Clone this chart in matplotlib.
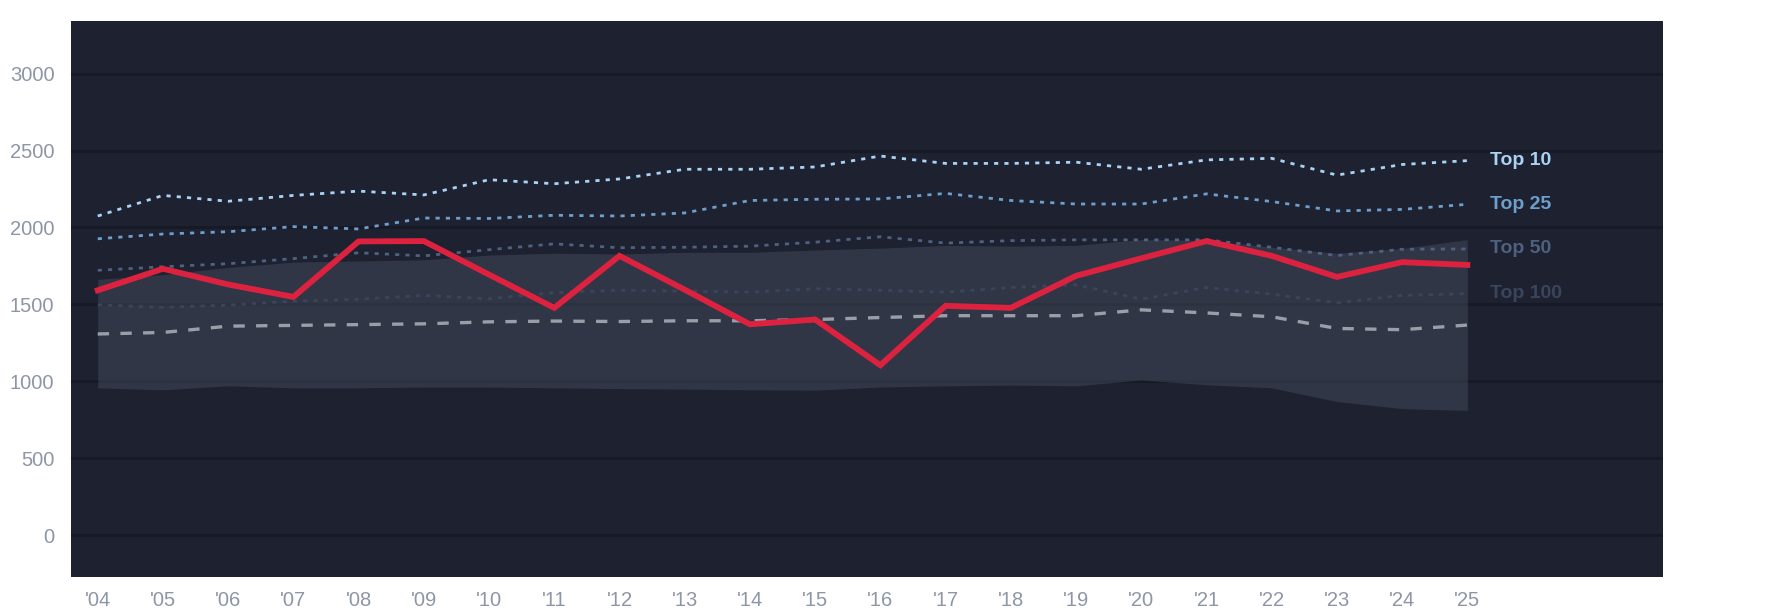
import matplotlib
matplotlib.use("Agg")
import matplotlib.pyplot as plt
import numpy as np

years = ["'04", "'05", "'06", "'07", "'08", "'09", "'10", "'11", "'12", "'13", "'14",
         "'15", "'16", "'17", "'18", "'19", "'20", "'21", "'22", "'23", "'24", "'25"]

main_series = [1591, 1731, 1629, 1548, 1909, 1911, 1693, 1477, 1815, 1595, 1370,
               1401, 1104, 1490, 1477, 1685, 1799, 1911, 1815, 1678, 1774, 1756]

top10 = [2074, 2208, 2170, 2208, 2236, 2211, 2310, 2284, 2315, 2378, 2378,
         2393, 2464, 2416, 2416, 2424, 2378, 2439, 2449, 2340, 2409, 2434]
top25 = [1926, 1957, 1972, 2005, 1990, 2061, 2058, 2079, 2074, 2094, 2175,
         2183, 2185, 2221, 2175, 2152, 2152, 2218, 2168, 2107, 2117, 2150]
top50 = [1721, 1744, 1764, 1797, 1835, 1815, 1855, 1893, 1868, 1871, 1878,
         1904, 1939, 1898, 1914, 1919, 1919, 1919, 1871, 1817, 1858, 1860]
top100 = [1497, 1480, 1495, 1520, 1533, 1558, 1536, 1576, 1591, 1586, 1579,
          1602, 1591, 1579, 1609, 1627, 1533, 1609, 1566, 1510, 1558, 1569]
median = [1307, 1317, 1358, 1363, 1368, 1373, 1386, 1391, 1388, 1393, 1393,
          1401, 1414, 1426, 1426, 1426, 1464, 1444, 1419, 1343, 1335, 1365]

band_upper = [1662, 1693, 1740, 1774, 1782, 1789, 1820, 1832, 1827, 1838, 1838,
              1853, 1865, 1883, 1878, 1883, 1921, 1916, 1871, 1832, 1863, 1921]
band_lower = [957, 944, 970, 957, 957, 962, 962, 957, 952, 949, 944,
              942, 962, 970, 975, 970, 1008, 977, 957, 868, 822, 810]

tier_labels = ["Top 10", "Top 25", "Top 50", "Top 100"]
tier_values = [top10, top25, top50, top100]
tier_colors = ["#a9d3f4", "#6e9ecb", "#4e6180", "#3a455c"]

y_ticks = [0, 500, 1000, 1500, 2000, 2500, 3000]

plt.rcParams['font.family'] = ['Liberation Sans', 'DejaVu Sans']

fig = plt.figure(figsize=(17.85, 6.14), dpi=100, facecolor="white")
ax = fig.add_axes([71 / 1785, 1 - 577 / 614, (1663 - 71) / 1785, (577 - 21) / 614])
ax.set_facecolor("#1d2130")

x = np.arange(len(years))

for yv in y_ticks:
    ax.axhline(yv, color="#161a25", lw=2.0, zorder=1)

ax.fill_between(x, band_lower, band_upper, color="#4b5062", alpha=0.45, lw=0, zorder=2)

for vals, col in zip(tier_values, tier_colors):
    ax.plot(x, vals, color=col, lw=2.0, linestyle=(0, (1.5, 2.2)), zorder=3,
            dash_capstyle="butt")

ax.plot(x, median, color="#9a9ea8", lw=2.4, linestyle=(0, (3.4, 3.4)), zorder=4)
ax.plot(x, main_series, color="#dc223f", lw=4.2, zorder=5, solid_joinstyle="miter")

for lab, vals, col in zip(tier_labels, tier_values, tier_colors):
    ax.text(21.35, vals[-1], lab, color=col, fontsize=14, fontweight="bold",
            va="center", ha="left", zorder=6)

ax.set_xlim(-0.41, 24.0)
ax.set_ylim(-273, 3342)
ax.set_xticks(x)
ax.set_xticklabels(years)
ax.set_yticks(y_ticks)
ax.set_yticklabels([str(v) for v in y_ticks])
ax.tick_params(axis="both", length=0, colors="#8d96a7", labelsize=14.5)
ax.tick_params(axis="x", pad=10)
ax.tick_params(axis="y", pad=12)
for s in ax.spines.values():
    s.set_visible(False)

fig.savefig("out.png", dpi=100, facecolor="white")
